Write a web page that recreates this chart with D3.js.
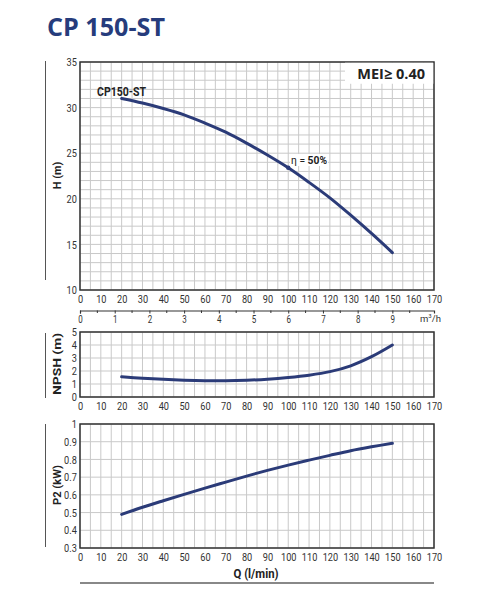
<!DOCTYPE html>
<html>
<head>
<meta charset="utf-8">
<script src="https://cdn.jsdelivr.net/npm/d3@7"></script>
<style>
  body { margin: 0; background: #fff; }
  svg { display: block; }
  .tick text { font-family: Roboto, "Liberation Sans", sans-serif; fill: #333; }
</style>
</head>
<body>
<svg class="chart" width="495" height="605"></svg>
<script>
// ---- data ----
const flow = [20, 30, 40, 50, 60, 70, 80, 90, 100, 110, 120, 130, 140, 150];   // l/min
const head = [31.0, 30.5, 29.9, 29.2, 28.3, 27.3, 26.1, 24.8, 23.4, 21.8, 20.1, 18.2, 16.2, 14.1];  // m
const npsh = [1.55, 1.45, 1.36, 1.29, 1.25, 1.25, 1.29, 1.37, 1.5, 1.68, 1.95, 2.4, 3.1, 4.0];     // m
const power = [0.49, 0.53, 0.567, 0.603, 0.638, 0.672, 0.706, 0.738, 0.768, 0.796, 0.823, 0.849, 0.871, 0.891]; // kW
const effPoint = {q: 100, h: 23.4, label: "50%"};
const qTicks = d3.range(0, 171, 10);
const m3Ticks = d3.range(0, 10, 1);   // m3/h
const hTicks = [10, 15, 20, 25, 30, 35];
const npshTicks = [0, 1, 2, 3, 4, 5];
const pTicks = [0.3, 0.4, 0.5, 0.6, 0.7, 0.8, 0.9, 1];

const navy = "#2b3b78";
const frame = "#333";
const gridc = "#c9c9c9";
const sans = 'Roboto, "Liberation Sans", sans-serif';
const squeeze = "scale(0.8,1)";   // the original uses a condensed face

const svg = d3.select("svg.chart");

// title
svg.append("text")
    .attr("x", 47).attr("y", 36)
    .attr("textLength", 118).attr("lengthAdjust", "spacingAndGlyphs")
    .attr("font-family", '"Open Sans", sans-serif')
    .attr("font-weight", 700).attr("font-size", 25)
    .attr("fill", "#263c7c")
    .text("CP 150-ST");

const x = d3.scaleLinear().domain([0, 170]).range([80, 434]);

// draw one panel: grid, frame, axes, curve
function panel(opt) {
    const y = d3.scaleLinear().domain(opt.domain).range(opt.range);
    const g = svg.append("g");
    const [y0, y1] = [opt.range[0], opt.range[1]];

    // vertical grid every 5 l/min
    g.append("g").selectAll("line")
        .data(d3.range(0, 171, 5))
        .join("line")
        .attr("x1", d => x(d)).attr("x2", d => x(d))
        .attr("y1", y1).attr("y2", y0)
        .attr("stroke", gridc).attr("stroke-width", 1);
    // horizontal grid
    g.append("g").selectAll("line")
        .data(opt.grid)
        .join("line")
        .attr("x1", 80).attr("x2", 434)
        .attr("y1", d => y(d)).attr("y2", d => y(d))
        .attr("stroke", gridc).attr("stroke-width", 1);

    // frame
    g.append("rect")
        .attr("x", 80).attr("y", y1)
        .attr("width", 354).attr("height", y0 - y1)
        .attr("fill", "none").attr("stroke", frame).attr("stroke-width", 1.5);

    // axes (labels only)
    const ax = g.append("g")
        .attr("transform", `translate(0,${y0})`)
        .call(d3.axisBottom(x).tickValues(qTicks).tickSize(0).tickPadding(5).tickFormat(d3.format("d")));
    ax.select(".domain").remove();
    ax.selectAll("text").attr("font-size", 11.5).attr("transform", squeeze);

    const ay = g.append("g")
        .attr("transform", "translate(80,0)")
        .call(d3.axisLeft(y).tickValues(opt.ticks).tickSize(0).tickPadding(4).tickFormat(opt.fmt));
    ay.select(".domain").remove();
    ay.selectAll("text").attr("font-size", 11.5).attr("transform", squeeze);

    // side label with rule
    g.append("line")
        .attr("x1", 45.5).attr("x2", 45.5)
        .attr("y1", opt.rule[0]).attr("y2", opt.rule[1])
        .attr("stroke", "#555").attr("stroke-width", 1);
    g.append("text")
        .attr("transform", `translate(61,${opt.labelY}) rotate(-90)`)
        .attr("text-anchor", "middle")
        .attr("textLength", opt.labelLen).attr("lengthAdjust", "spacingAndGlyphs")
        .attr("font-family", sans)
        .attr("font-weight", 700).attr("font-size", 11.5)
        .attr("fill", "#222")
        .text(opt.label);

    // curve
    const line = d3.line()
        .x((d, i) => x(flow[i]))
        .y(d => y(d))
        .curve(d3.curveCatmullRom);
    g.append("path")
        .datum(opt.values)
        .attr("d", line)
        .attr("fill", "none")
        .attr("stroke", navy).attr("stroke-width", 3)
        .attr("stroke-linecap", "round");
    return {g, y};
}

// ---- H panel ----
const H = panel({
    domain: [10, 35], range: [290, 62], grid: d3.range(10, 36, 1), ticks: hTicks,
    fmt: d3.format("d"), values: head, label: "H (m)", labelY: 175.5, labelLen: 27.5, rule: [61, 280]
});

// MEI box
H.g.append("rect")
    .attr("x", 345).attr("y", 62.75).attr("width", 88.25).attr("height", 21)
    .attr("fill", "#fff");
H.g.append("text")
    .attr("x", 425).attr("y", 79).attr("text-anchor", "end")
    .attr("font-family", '"Open Sans", sans-serif')
    .attr("font-weight", 700).attr("font-size", 14.5).attr("fill", "#222")
    .text("MEI≥ 0.40");

// model label
H.g.append("text")
    .attr("x", 97).attr("y", 95.5)
    .attr("textLength", 49).attr("lengthAdjust", "spacingAndGlyphs")
    .attr("font-family", sans)
    .attr("font-weight", 700).attr("font-size", 13).attr("fill", "#222")
    .text("CP150-ST");

// efficiency point
H.g.append("circle")
    .attr("cx", x(effPoint.q)).attr("cy", H.y(effPoint.h))
    .attr("r", 2.2).attr("fill", navy);
H.g.append("rect")
    .attr("x", 290).attr("y", 154).attr("width", 38).attr("height", 12)
    .attr("fill", "#fff");
const eta = H.g.append("text")
    .attr("x", 291).attr("y", 164)
    .attr("textLength", 36).attr("lengthAdjust", "spacingAndGlyphs")
    .attr("font-family", sans)
    .attr("font-size", 11).attr("fill", "#222");
eta.append("tspan").text("η = ");
eta.append("tspan").attr("font-weight", 700).text(effPoint.label);

// m3/h secondary axis
const m3 = d3.scaleLinear().domain([0, 170 * 60 / 1000]).range([80, 434]);
const am = svg.append("g")
    .attr("transform", "translate(0,310.5)")
    .call(d3.axisBottom(m3).tickValues(m3Ticks).tickSize(3).tickPadding(2).tickFormat(d3.format("d")));
am.select(".domain").attr("stroke", frame).attr("stroke-width", 1.2);
am.selectAll("line").attr("stroke", frame);
am.selectAll("text").attr("font-size", 10).attr("transform", squeeze);
am.append("g").selectAll("line")
    .data(d3.range(0.5, 10, 1))
    .join("line")
    .attr("x1", d => m3(d)).attr("x2", d => m3(d))
    .attr("y1", 0).attr("y2", 2.5)
    .attr("stroke", frame);
const unit = svg.append("text")
    .attr("x", 420).attr("y", 322)
    .attr("font-family", sans)
    .attr("font-size", 9.5).attr("fill", "#333");
unit.append("tspan").text("m");
unit.append("tspan").attr("font-size", 6).attr("dy", -4).text("3");
unit.append("tspan").attr("dy", 4).text("/h");

// ---- NPSH panel ----
panel({
    domain: [0, 5], range: [397, 332], grid: d3.range(0, 6, 1), ticks: npshTicks,
    fmt: d3.format("d"), values: npsh, label: "NPSH (m)", labelY: 364, labelLen: 62, rule: [333, 398]
});

// ---- P2 panel ----
panel({
    domain: [0.3, 1], range: [548, 424], grid: pTicks, ticks: pTicks,
    fmt: d => d === 1 ? "1" : d3.format(".1f")(d), values: power, label: "P2 (kW)", labelY: 485, labelLen: 40, rule: [424, 547]
});

// Q axis title and rule
svg.append("text")
    .attr("x", 256).attr("y", 578).attr("text-anchor", "middle")
    .attr("textLength", 45).attr("lengthAdjust", "spacingAndGlyphs")
    .attr("font-family", sans)
    .attr("font-weight", 700).attr("font-size", 13).attr("fill", "#222")
    .text("Q (l/min)");
svg.append("line")
    .attr("x1", 80).attr("x2", 434).attr("y1", 583).attr("y2", 583)
    .attr("stroke", "#888").attr("stroke-width", 2);
</script>
</body>
</html>
